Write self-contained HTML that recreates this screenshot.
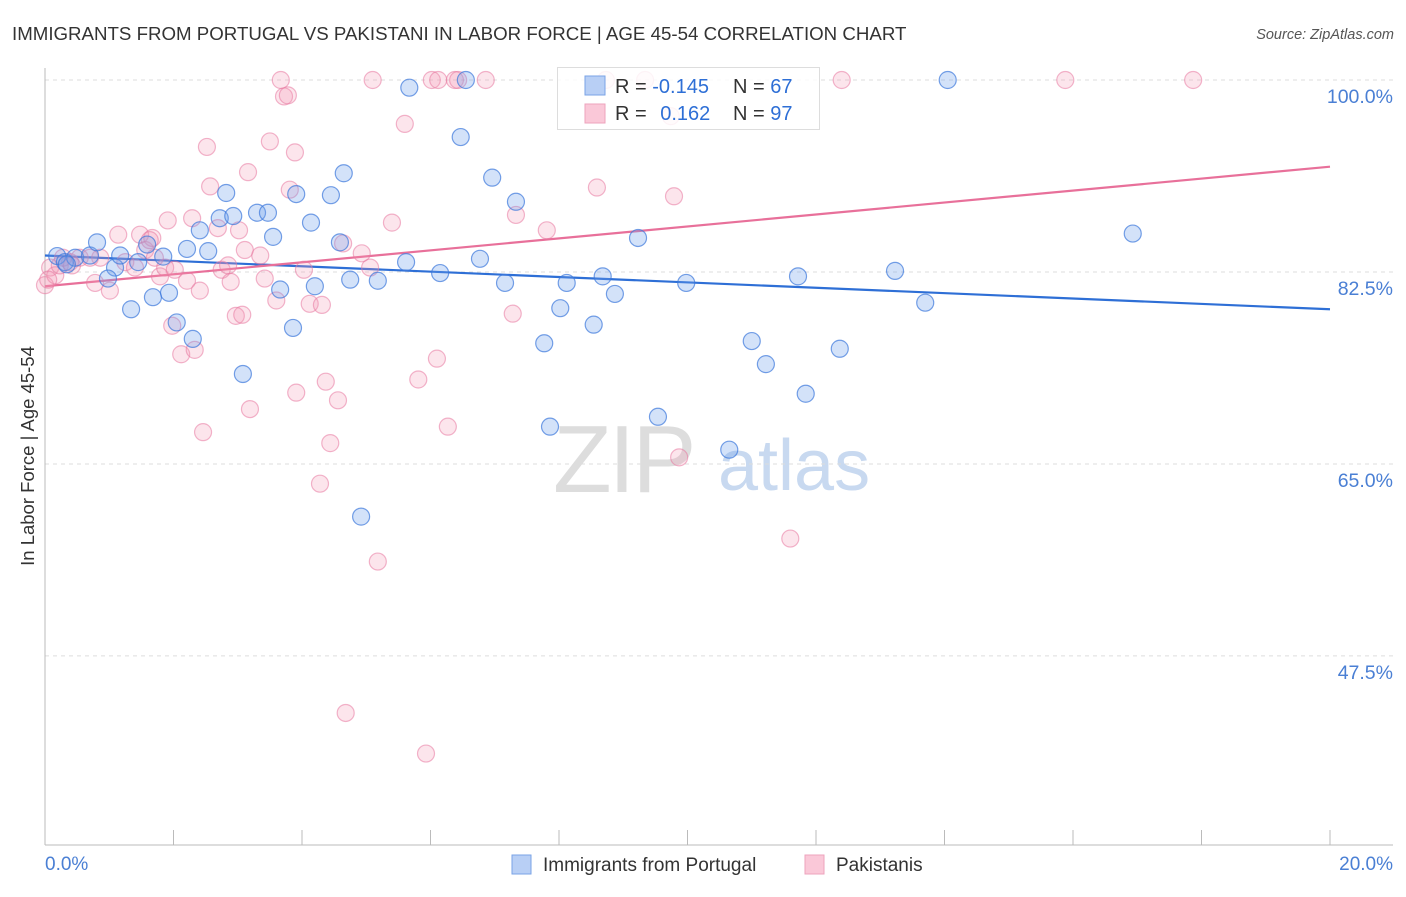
<!DOCTYPE html>
<html><head><meta charset="utf-8"><style>
body{margin:0;background:#fff;font-family:"Liberation Sans",sans-serif;}
svg text{font-family:"Liberation Sans",sans-serif;}
</style></head><body>
<svg id="chart" width="1406" height="892" xmlns="http://www.w3.org/2000/svg">
<text x="12" y="40" font-size="18.7" fill="#333">IMMIGRANTS FROM PORTUGAL VS PAKISTANI IN LABOR FORCE | AGE 45-54 CORRELATION CHART</text>
<text x="1394" y="39" font-size="14.5" fill="#555" font-style="italic" text-anchor="end">Source: ZipAtlas.com</text>
<text transform="translate(34,456) rotate(-90)" font-size="18.5" fill="#333" text-anchor="middle">In Labor Force | Age 45-54</text>
<g><text x="553" y="492" font-size="96" fill="#ddd" font-family="Liberation Serif" letter-spacing="-3">ZIP</text><text x="718" y="490" font-size="72" fill="#c8d9f0">atlas</text></g>
<g id="grid"></g><g id="axes"></g><g id="lines"></g><g id="pts"></g>
<g>
<rect x="557.5" y="67.5" width="262" height="62" fill="rgba(255,255,255,0.85)" stroke="#ddd"/>
<rect x="585" y="76" width="20" height="19" fill="#b8cff5" stroke="#7aa3e6"/>
<rect x="585" y="104" width="20" height="19" fill="#fac8d8" stroke="#eea3bd"/>
<text x="615" y="93" font-size="20" fill="#333">R = <tspan fill="#2e6fd6">-0.145</tspan></text>
<text x="733" y="93" font-size="20" fill="#333">N = <tspan fill="#2e6fd6">67</tspan></text>
<text x="615" y="120" font-size="20" fill="#333">R = <tspan fill="#2e6fd6" dx="8">0.162</tspan></text>
<text x="733" y="120" font-size="20" fill="#333">N = <tspan fill="#2e6fd6">97</tspan></text>
</g>
<g>
<rect x="512" y="855" width="19" height="19" fill="#b8cff5" stroke="#7aa3e6"/>
<text x="543" y="871" font-size="19" fill="#333">Immigrants from Portugal</text>
<rect x="805" y="855" width="19" height="19" fill="#fac8d8" stroke="#eea3bd"/>
<text x="836" y="871" font-size="19" fill="#333">Pakistanis</text>
</g>
</svg>
<script>
const yTicks=[100,82.5,65,47.5];
const yTickLabels=["100.0%","82.5%","65.0%","47.5%"];
const xTickLabels=["0.0%","20.0%"];
const blueX=[0.19,0.31,0.47,0.70,0.81,1.09,0.98,1.17,1.34,1.45,1.59,1.68,1.84,1.93,2.05,2.21,2.30,2.41,2.54,2.72,2.82,2.93,3.08,3.30,3.47,3.55,3.66,3.86,3.91,4.14,4.20,4.45,4.59,4.65,4.75,4.92,5.18,5.62,5.67,6.15,6.47,6.55,6.77,6.96,7.16,7.33,7.77,7.86,8.02,8.12,8.54,8.68,8.87,9.23,9.54,9.98,10.65,11.00,11.22,11.72,11.84,12.37,13.23,13.70,14.05,16.93,0.34];
const blueY=[83.95,83.4,83.8,84.0,85.2,82.9,81.9,84.0,79.1,83.4,85.0,80.2,83.9,80.6,77.9,84.6,76.4,86.3,84.4,87.4,89.7,87.6,73.2,87.9,87.9,85.7,80.9,77.4,89.6,87.0,81.2,89.5,85.2,91.5,81.8,60.2,81.7,83.4,99.3,82.4,94.8,100,83.7,91.1,81.5,88.9,76.0,68.4,79.2,81.5,77.7,82.1,80.5,85.6,69.3,81.5,66.3,76.2,74.1,82.1,71.4,75.5,82.6,79.7,100,86.0,83.2];
const pinkX=[0,0.08,0.16,0.23,0.39,0.54,0.78,0.86,1.01,1.14,1.25,1.40,1.48,1.56,1.67,1.79,1.87,1.91,1.98,2.02,2.12,2.21,2.29,2.33,2.41,2.46,2.52,2.57,2.69,2.75,2.85,2.89,2.97,3.02,3.07,3.11,3.16,3.19,3.35,3.42,3.50,3.60,3.67,3.72,3.78,3.81,3.89,3.91,4.03,4.12,4.28,4.31,4.37,4.44,4.56,4.64,4.68,4.93,5.06,5.10,5.18,5.40,5.60,5.81,6.02,6.12,6.27,6.38,6.43,6.10,6.86,7.28,7.33,7.81,8.59,8.73,9.34,9.74,9.79,9.87,11.60,12.40,15.88,17.87,5.93,1.63,1.71,0.70,0.28,0.05,0.42];
const pinkY=[81.3,82.9,82.2,83.1,83.4,83.8,81.5,83.8,80.8,85.9,83.4,82.9,85.9,84.5,85.6,82.1,82.9,87.2,77.6,82.7,75.0,81.7,87.4,75.4,80.8,67.9,93.9,90.3,86.5,82.7,83.1,81.6,78.5,86.3,78.6,84.5,91.6,70.0,84.0,81.9,94.4,79.9,100,98.5,98.6,90.0,93.4,71.5,82.7,79.6,63.2,79.5,72.5,66.9,70.8,85.1,42.3,84.2,82.9,100,56.1,87.0,96.0,72.7,100,100,68.4,100,100,74.6,100,78.7,87.7,86.3,90.2,100,100,96.7,89.4,65.6,58.2,100,100,100,38.6,85.4,83.8,83.8,83.8,81.8,83.1];
const blueTrend=[84.0,79.1];
const pinkTrend=[81.2,92.1];
const trendX=[0,20];
const NS="http://www.w3.org/2000/svg";
function sx(v){return 45+v*64.25;}
function sy(v){return 80+(100-v)*10.97;}
function mk(tag,attrs,parent){const e=document.createElementNS(NS,tag);for(const k in attrs)e.setAttribute(k,attrs[k]);document.getElementById(parent).appendChild(e);return e;}
yTicks.forEach((t,i)=>{
 const g=mk('line',{x1:45,x2:1393,y1:sy(t),y2:sy(t),stroke:'#ddd','stroke-dasharray':'4,4'},'grid');
 
 
 const l=mk('text',{x:1393,y:sy(t)+23,'font-size':19.5,fill:'#4a7fd4','text-anchor':'end'},'grid');
 l.textContent=yTickLabels[i];
 
 
});
const ax=mk('line',{x1:45,x2:45,y1:68,y2:845,stroke:'#bbb'},'axes');


const bx=mk('line',{x1:45,x2:1393,y1:845,y2:845,stroke:'#bbb'},'axes');


for(let i=1;i<=10;i++){const t=mk('line',{x1:sx(i*2),x2:sx(i*2),y1:830,y2:845,stroke:'#bbb'},'axes');
 
 }
const xl0=mk('text',{x:45,y:870,'font-size':19,fill:'#4a7fd4'},'axes');xl0.textContent=xTickLabels[0];


const xl1=mk('text',{x:1393,y:870,'font-size':19,fill:'#4a7fd4','text-anchor':'end'},'axes');xl1.textContent=xTickLabels[1];


pinkX.forEach((x,i)=>{const c=mk('circle',{cx:sx(x),cy:sy(pinkY[i]),r:8.5,fill:'rgba(244,150,180,0.25)',stroke:'rgba(232,120,160,0.55)','stroke-width':1.2},'pts');
 
 });
blueX.forEach((x,i)=>{const c=mk('circle',{cx:sx(x),cy:sy(blueY[i]),r:8.5,fill:'rgba(110,160,235,0.3)',stroke:'rgba(60,120,220,0.7)','stroke-width':1.2},'pts');
 
 });
const bl=mk('line',{x1:sx(trendX[0]),x2:sx(trendX[1]),y1:sy(blueTrend[0]),y2:sy(blueTrend[1]),stroke:'#2e6fd6','stroke-width':2.2},'lines');


const pl=mk('line',{x1:sx(trendX[0]),x2:sx(trendX[1]),y1:sy(pinkTrend[0]),y2:sy(pinkTrend[1]),stroke:'#e8709a','stroke-width':2.2},'lines');


</script>
</body></html>
